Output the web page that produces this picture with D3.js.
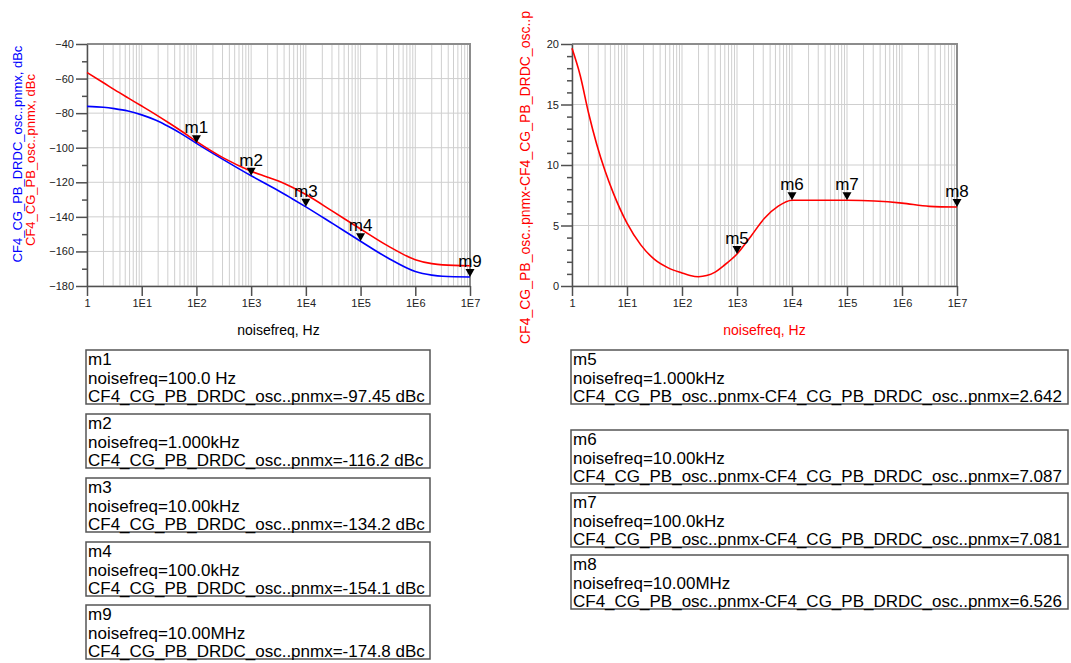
<!DOCTYPE html>
<html>
<head>
<meta charset="utf-8">
<script src="https://cdn.jsdelivr.net/npm/d3@7"></script>
<style>
    body { margin: 0; background: #fff; }
    svg { font-family: Arial, "Liberation Sans", sans-serif; }
</style>
</head>
<body>
<div id="chart"></div>
<script>

// Phase noise traces (left plot), dBc vs noisefreq (Hz)
const pnFreq = [1, 2, 3.16, 5.62, 10, 17.8, 31.6, 56.2, 100, 316, 1000, 1780, 3160, 5620, 10000, 31600, 100000, 316000, 1e6, 2e6, 3.16e6, 1e7];
const drdcPn = [-76.1, -76.6, -77.4, -78.8, -81.0, -84.0, -87.9, -92.4, -97.45, -107.0, -116.2, -120.6, -124.9, -129.5, -134.2, -144.1, -154.1, -163.8, -171.6, -173.7, -174.4, -174.8];
const pbPn = [-56.5, -62.4, -66.4, -71.2, -75.9, -80.7, -85.7, -90.9, -96.35, -106.05, -113.56, -116.5, -119.3, -122.9, -127.1, -137.0, -147.0, -156.8, -164.75, -167.05, -167.8, -168.27];

// Difference trace (right plot)
const diffFreq = [1, 1.41, 2, 2.82, 4, 5.62, 10, 17.8, 31.6, 56.2, 100, 140, 200, 280, 400, 562, 1000, 1780, 3160, 5620, 10000, 31600, 100000, 316000, 1e6, 3.16e6, 1e7];
const diffPn = [19.64, 17.4, 14.3, 11.7, 9.5, 7.7, 5.2, 3.4, 2.2, 1.5, 1.08, 0.87, 0.77, 0.86, 1.15, 1.65, 2.642, 4.1, 5.6, 6.6, 7.087, 7.09, 7.081, 7.02, 6.85, 6.58, 6.526];

// Axis ticks
const decadeTicks = [1, 10, 100, 1000, 1e4, 1e5, 1e6, 1e7];
const decadeLabels = ['1', '1E1', '1E2', '1E3', '1E4', '1E5', '1E6', '1E7'];
const leftYTicks = [-180, -160, -140, -120, -100, -80, -60, -40];
const rightYTicks = [0, 5, 10, 15, 20];

// Markers
const leftMarkerNames = ['m1', 'm2', 'm3', 'm4', 'm9'];
const leftMarkerFreq = [100, 1000, 1e4, 1e5, 1e7];
const leftMarkerFreqText = ['100.0 Hz', '1.000kHz', '10.00kHz', '100.0kHz', '10.00MHz'];
const leftMarkerValue = [-97.45, -116.2, -134.2, -154.1, -174.8];

const rightMarkerNames = ['m5', 'm6', 'm7', 'm8'];
const rightMarkerFreq = [1000, 1e4, 1e5, 1e7];
const rightMarkerFreqText = ['1.000kHz', '10.00kHz', '100.0kHz', '10.00MHz'];
const rightMarkerValue = [2.642, 7.087, 7.081, 6.526];


/* * * * * * * * * * * * * *
 *         NoisePlot        *
 * * * * * * * * * * * * * */

class NoisePlot {
    constructor(svg, opts) {
        this.svg = svg;
        this.opts = opts;

        this.initVis();
    }

    initVis() {
        let vis = this;
        let o = vis.opts;

        vis.x = d3.scaleLog().domain([1, 1e7]).range([o.left, o.right]);
        vis.y = d3.scaleLinear().domain(o.yDomain).range([o.bottom, o.top]);

        vis.g = vis.svg.append('g');

        // grid
        vis.g.append('g').selectAll('line')
            .data(vis.x.ticks())
            .join('line')
            .attr('x1', d => vis.x(d)).attr('x2', d => vis.x(d))
            .attr('y1', o.top).attr('y2', o.bottom)
            .attr('stroke', '#cfcfcf')
            .attr('stroke-width', 1);

        vis.g.append('g').selectAll('line')
            .data(o.yTicks)
            .join('line')
            .attr('x1', o.left).attr('x2', o.right)
            .attr('y1', d => vis.y(d)).attr('y2', d => vis.y(d))
            .attr('stroke', '#cfcfcf')
            .attr('stroke-width', 1);

        // frame (top + right)
        vis.g.append('path')
            .attr('d', `M${o.left},${o.top}H${o.right}V${o.bottom}`)
            .attr('fill', 'none')
            .attr('stroke', '#8c8c8c')
            .attr('stroke-width', 2);

        // axes
        let xAxis = d3.axisBottom(vis.x)
            .tickValues(decadeTicks)
            .tickFormat((d, i) => decadeLabels[i])
            .tickSize(10).tickSizeOuter(0).tickPadding(3);

        let gx = vis.g.append('g')
            .attr('transform', `translate(0, ${o.bottom})`)
            .call(xAxis);

        let yAxis = d3.axisLeft(vis.y)
            .tickValues(o.yTicks)
            .tickSize(11).tickSizeOuter(0).tickPadding(2);

        let gy = vis.g.append('g')
            .attr('transform', `translate(${o.left}, 0)`)
            .call(yAxis);

        let gyMinor = vis.g.append('g')
            .attr('transform', `translate(${o.left}, 0)`)
            .call(d3.axisLeft(vis.y).tickValues(o.yMinor).tickSize(5).tickFormat(''));
        gyMinor.select('.domain').remove();

        [gx, gy, gyMinor].forEach(a => {
            a.selectAll('path, line').attr('stroke', '#505050').attr('stroke-width', 1.5);
            a.selectAll('text')
                .attr('fill', '#222')
                .style('font-size', '11px')
                .style('font-family', 'Arial, "Liberation Sans", sans-serif');
        });

        // x title
        vis.svg.append('text')
            .attr('x', (o.left + o.right) / 2)
            .attr('y', 330)
            .attr('text-anchor', 'middle')
            .attr('dominant-baseline', 'central')
            .attr('fill', o.xTitleColor)
            .style('font-size', '14px')
            .text('noisefreq, Hz');

        // y titles
        o.yTitles.forEach(t => {
            vis.svg.append('text')
                .attr('transform', `translate(${t.x}, ${t.y}) rotate(-90)`)
                .attr('text-anchor', t.anchor)
                .attr('dominant-baseline', 'central')
                .attr('fill', t.color)
                .style('font-size', t.size + 'px')
                .text(t.text);
        });

        vis.line = d3.line()
            .x(d => vis.x(d.f))
            .y(d => vis.y(d.v))
            .curve(d3.curveMonotoneX);
    }

    drawTrace(freqs, values, color) {
        let vis = this;
        let data = freqs.map((f, i) => ({ f: f, v: values[i] }));

        vis.g.append('path')
            .datum(data)
            .attr('d', vis.line)
            .attr('fill', 'none')
            .attr('stroke', color)
            .attr('stroke-width', 1.6);
    }

    drawMarkers(names, freqs, values) {
        let vis = this;
        let data = names.map((n, i) => ({ name: n, f: freqs[i], v: values[i] }));

        let m = vis.g.append('g').selectAll('g')
            .data(data)
            .join('g');

        m.append('path')
            .attr('d', d => {
                let px = vis.x(d.f), py = vis.y(d.v);
                return `M${px - 4.5},${py - 8}L${px + 4.5},${py - 8}L${px},${py}Z`;
            })
            .attr('fill', '#000');

        m.append('text')
            .attr('x', d => vis.x(d.f))
            .attr('y', d => vis.y(d.v) - 10)
            .attr('text-anchor', 'middle')
            .attr('fill', '#000')
            .style('font-size', '17px')
            .text(d => d.name);
    }
}


function drawBoxes(svg, x, width, tops, names, freqText, lineText) {
    names.forEach((n, i) => {
        let g = svg.append('g').attr('transform', `translate(${x}, ${tops[i]})`);

        g.append('rect')
            .attr('x', 0).attr('y', 0)
            .attr('width', width).attr('height', 54)
            .attr('fill', '#fff')
            .attr('stroke', '#555')
            .attr('stroke-width', 1.5);

        [n, 'noisefreq=' + freqText[i], lineText(i)].forEach((t, k) => {
            g.append('text')
                .attr('x', 2)
                .attr('y', 15 + k * 18.5)
                .attr('fill', '#000')
                .style('font-size', '17px')
                .text(t);
        });
    });
}


// init drawing area
const svg = d3.select('#chart')
    .append('svg')
    .attr('width', 1071)
    .attr('height', 663);

const leftPlot = new NoisePlot(svg, {
    left: 87, right: 470, top: 44, bottom: 286,
    yDomain: [-180, -40],
    yTicks: leftYTicks,
    yMinor: d3.range(-170, -40, 20),
    xTitleColor: '#000',
    yTitles: [
        { x: 17.5, y: 154, anchor: 'middle', color: '#0000ff', size: 13, text: 'CF4_CG_PB_DRDC_osc..pnmx, dBc' },
        { x: 30.5, y: 160, anchor: 'middle', color: '#ff0000', size: 13, text: 'CF4_CG_PB_osc..pnmx, dBc' }
    ]
});
leftPlot.drawTrace(pnFreq, drdcPn, '#0000ff');
leftPlot.drawTrace(pnFreq, pbPn, '#ff0000');
leftPlot.drawMarkers(leftMarkerNames, leftMarkerFreq, leftMarkerValue);

const rightPlot = new NoisePlot(svg, {
    left: 572, right: 957, top: 44, bottom: 286,
    yDomain: [0, 20],
    yTicks: rightYTicks,
    yMinor: d3.range(1, 20, 1).filter(d => d % 5 !== 0),
    xTitleColor: '#ff0000',
    yTitles: [
        { x: 525, y: 344, anchor: 'start', color: '#ff0000', size: 14, text: 'CF4_CG_PB_osc..pnmx-CF4_CG_PB_DRDC_osc..p' }
    ]
});
rightPlot.drawTrace(diffFreq, diffPn, '#ff0000');
rightPlot.drawMarkers(rightMarkerNames, rightMarkerFreq, rightMarkerValue);

// marker readouts
drawBoxes(svg, 86, 344, [350, 414, 478, 542, 605],
    leftMarkerNames, leftMarkerFreqText,
    i => `CF4_CG_PB_DRDC_osc..pnmx=${leftMarkerValue[i]} dBc`);

drawBoxes(svg, 571, 497, [350, 430, 493, 555],
    rightMarkerNames, rightMarkerFreqText,
    i => `CF4_CG_PB_osc..pnmx-CF4_CG_PB_DRDC_osc..pnmx=${rightMarkerValue[i]}`);

</script>
</body>
</html>
